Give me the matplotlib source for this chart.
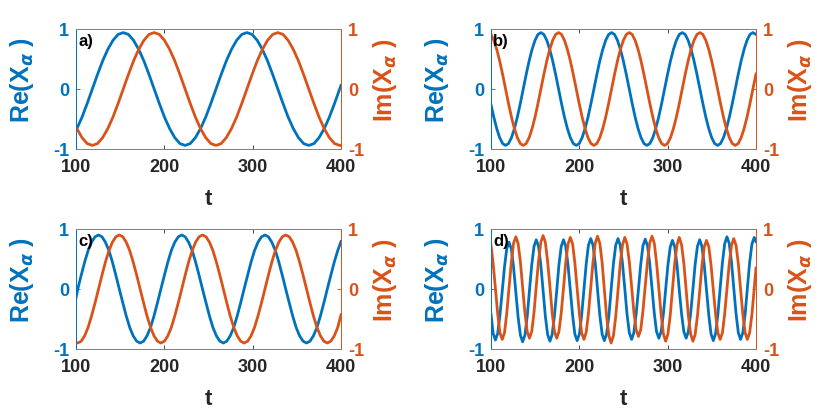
import matplotlib
matplotlib.use('Agg')
import matplotlib.pyplot as plt

plt.rcParams['font.family'] = ['Liberation Sans', 'DejaVu Sans']
plt.rcParams['font.weight'] = 'bold'
plt.rcParams['axes.unicode_minus'] = False
plt.rcParams['mathtext.fontset'] = 'dejavusans'

# ---------------- data ----------------
t_a = [100, 101.0, 106.8, 112.7, 118.5, 124.3, 130.2, 136.0, 141.8, 147.7, 153.5,
       159.3, 165.2, 171.0, 176.8, 182.7, 188.5, 194.3, 200.2, 206.0, 211.8, 217.7,
       223.5, 229.3, 235.2, 241.0, 246.8, 252.7, 258.5, 264.3, 270.2, 276.0, 281.8,
       287.7, 293.5, 299.3, 305.2, 311.0, 316.8, 322.7, 328.5, 334.3, 340.2, 346.0,
       351.8, 357.7, 363.5, 369.3, 375.2, 381.0, 386.8, 392.7, 398.5, 400]
re_a = [-0.68, -0.66, -0.47, -0.24, 0, 0.24, 0.47, 0.66, 0.81, 0.91, 0.94,
        0.91, 0.81, 0.66, 0.47, 0.24, 0, -0.24, -0.47, -0.66, -0.81, -0.91,
        -0.94, -0.91, -0.81, -0.66, -0.47, -0.24, 0, 0.24, 0.47, 0.66, 0.81,
        0.91, 0.94, 0.91, 0.81, 0.66, 0.47, 0.24, 0, -0.24, -0.47, -0.66,
        -0.81, -0.91, -0.94, -0.91, -0.81, -0.66, -0.47, -0.24, 0, 0.06]
im_a = [-0.64, -0.66, -0.81, -0.91, -0.94, -0.91, -0.81, -0.66, -0.47, -0.24, 0,
        0.24, 0.47, 0.66, 0.81, 0.91, 0.94, 0.91, 0.81, 0.66, 0.47, 0.24,
        0, -0.24, -0.47, -0.66, -0.81, -0.91, -0.94, -0.91, -0.81, -0.66, -0.47,
        -0.24, 0, 0.24, 0.47, 0.66, 0.81, 0.91, 0.94, 0.91, 0.81, 0.66,
        0.47, 0.24, 0, -0.24, -0.47, -0.66, -0.81, -0.91, -0.94, -0.94]

t_b = [100, 103.2, 106.5, 109.8, 113.2, 116.5, 119.8, 123.2, 126.5, 129.8, 133.2,
       136.5, 139.8, 143.2, 146.5, 149.8, 153.2, 156.5, 159.8, 163.2, 166.5, 169.8,
       173.2, 176.5, 179.8, 183.2, 186.5, 189.8, 193.2, 196.5, 199.8, 203.2, 206.5,
       209.8, 213.2, 216.5, 219.8, 223.2, 226.5, 229.8, 233.2, 236.5, 239.8, 243.2,
       246.5, 249.8, 253.2, 256.5, 259.8, 263.2, 266.5, 269.8, 273.2, 276.5, 279.8,
       283.2, 286.5, 289.8, 293.2, 296.5, 299.8, 303.2, 306.5, 309.8, 313.2, 316.5,
       319.8, 323.2, 326.5, 329.8, 333.2, 336.5, 339.8, 343.2, 346.5, 349.8, 353.2,
       356.5, 359.8, 363.2, 366.5, 369.8, 373.2, 376.5, 379.8, 383.2, 386.5, 389.8,
       393.2, 396.5, 400]
re_b = [-0.26,
        -0.47, -0.66, -0.81, -0.91, -0.94, -0.91, -0.81, -0.66, -0.47, -0.24, 0, 0.24,
        0.47, 0.66, 0.81, 0.91,
        0.94, 0.91, 0.81, 0.66, 0.47, 0.24, 0, -0.24, -0.47, -0.66, -0.81, -0.91,
        -0.94, -0.91, -0.81, -0.66, -0.47, -0.24, 0, 0.24, 0.47, 0.66, 0.81, 0.91,
        0.94, 0.91, 0.81, 0.66, 0.47, 0.24, 0, -0.24, -0.47, -0.66, -0.81, -0.91,
        -0.94, -0.91, -0.81, -0.66, -0.47, -0.24, 0, 0.24, 0.47, 0.66, 0.81, 0.91,
        0.94, 0.91, 0.81, 0.66, 0.47, 0.24, 0, -0.24, -0.47, -0.66, -0.81, -0.91,
        -0.94, -0.91, -0.81, -0.66, -0.47, -0.24, 0, 0.24, 0.47, 0.66, 0.81, 0.91,
        0.94, 0.91]
im_b = [0.91,
        0.81, 0.66, 0.47, 0.24, 0, -0.24, -0.47, -0.66, -0.81, -0.91, -0.94, -0.91,
        -0.81, -0.66, -0.47, -0.24, 0, 0.24, 0.47, 0.66, 0.81, 0.91,
        0.94, 0.91, 0.81, 0.66, 0.47, 0.24, 0, -0.24, -0.47, -0.66, -0.81, -0.91,
        -0.94, -0.91, -0.81, -0.66, -0.47, -0.24, 0, 0.24, 0.47, 0.66, 0.81, 0.91,
        0.94, 0.91, 0.81, 0.66, 0.47, 0.24, 0, -0.24, -0.47, -0.66, -0.81, -0.91,
        -0.94, -0.91, -0.81, -0.66, -0.47, -0.24, 0, 0.24, 0.47, 0.66, 0.81, 0.91,
        0.94, 0.91, 0.81, 0.66, 0.47, 0.24, 0, -0.24, -0.47, -0.66, -0.81, -0.91,
        -0.94, -0.91, -0.81, -0.66, -0.47, -0.24, 0,
        0.25]

t_c = [100, 102.0, 105.9, 109.8, 113.7, 117.6, 121.6, 125.5, 129.4, 133.3, 137.3,
       141.2, 145.1, 149.0, 153.0, 156.9, 160.8, 164.7, 168.7, 172.6, 176.5, 180.4,
       184.4, 188.3, 192.2, 196.1, 200.1, 204.0, 207.9, 211.8, 215.8, 219.7, 223.6,
       227.5, 231.5, 235.4, 239.3, 243.2, 247.2, 251.1, 255.0, 258.9, 262.9, 266.8,
       270.7, 274.6, 278.6, 282.5, 286.4, 290.3, 294.3, 298.2, 302.1, 306.0, 310.0,
       313.9, 317.8, 321.7, 325.7, 329.6, 333.5, 337.4, 341.4, 345.3, 349.2, 353.1,
       357.1, 361.0, 364.9, 368.8, 372.8, 376.7, 380.6, 384.5, 388.5, 392.4, 396.3,
       400]
re_c = [-0.15,
        0, 0.23, 0.45, 0.64, 0.78, 0.87,
        0.9, 0.87, 0.78, 0.64, 0.45, 0.23, 0, -0.23, -0.45, -0.64, -0.78, -0.87,
        -0.9, -0.87, -0.78, -0.64, -0.45, -0.23, 0, 0.23, 0.45, 0.64, 0.78, 0.87,
        0.9, 0.87, 0.78, 0.64, 0.45, 0.23, 0, -0.23, -0.45, -0.64, -0.78, -0.87,
        -0.9, -0.87, -0.78, -0.64, -0.45, -0.23, 0, 0.23, 0.45, 0.64, 0.78, 0.87,
        0.9, 0.87, 0.78, 0.64, 0.45, 0.23, 0, -0.23, -0.45, -0.64, -0.78, -0.87,
        -0.9, -0.87, -0.78, -0.64, -0.45, -0.23, 0, 0.23, 0.45, 0.64,
        0.79]
im_c = [-0.89,
        -0.9, -0.87, -0.78, -0.64, -0.45, -0.23, 0, 0.23, 0.45, 0.64, 0.78, 0.87,
        0.9, 0.87, 0.78, 0.64, 0.45, 0.23, 0, -0.23, -0.45, -0.64, -0.78, -0.87,
        -0.9, -0.87, -0.78, -0.64, -0.45, -0.23, 0, 0.23, 0.45, 0.64, 0.78, 0.87,
        0.9, 0.87, 0.78, 0.64, 0.45, 0.23, 0, -0.23, -0.45, -0.64, -0.78, -0.87,
        -0.9, -0.87, -0.78, -0.64, -0.45, -0.23, 0, 0.23, 0.45, 0.64, 0.78, 0.87,
        0.9, 0.87, 0.78, 0.64, 0.45, 0.23, 0, -0.23, -0.45, -0.64, -0.78, -0.87,
        -0.9, -0.87, -0.78, -0.64,
        -0.43]

t_d = [100, 102.4, 105.0, 107.6, 110.1, 112.7, 115.3, 117.8, 120.4, 123.0, 125.5,
       128.1, 130.7, 133.3, 135.8, 138.4, 141.0, 143.5, 146.1, 148.7, 151.2, 153.8,
       156.4, 159.0, 161.5, 164.1, 166.7, 169.2, 171.8, 174.4, 176.9, 179.5, 182.1,
       184.6, 187.2, 189.8, 192.4, 194.9, 197.5, 200.1, 202.6, 205.2, 207.8, 210.3,
       212.9, 215.5, 218.1, 220.6, 223.2, 225.8, 228.3, 230.9, 233.5, 236.0, 238.6,
       241.2, 243.8, 246.3, 248.9, 251.5, 254.0, 256.6, 259.2, 261.7, 264.3, 266.9,
       269.5, 272.0, 274.6, 277.2, 279.7, 282.3, 284.9, 287.4, 290.0, 292.6, 295.2,
       297.7, 300.3, 302.9, 305.4, 308.0, 310.6, 313.1, 315.7, 318.3, 320.9, 323.4,
       326.0, 328.6, 331.1, 333.7, 336.3, 338.8, 341.4, 344.0, 346.6, 349.1, 351.7,
       354.3, 356.8, 359.4, 362.0, 364.5, 367.1, 369.7, 372.3, 374.8, 377.4, 380.0,
       382.5, 385.1, 387.7, 390.2, 392.8, 395.4, 398.0, 400]
re_d = [-0.42, -0.74, -0.85, -0.74, -0.44, -0.04, 0.37, 0.67, 0.78, 0.67, 0.37,
        -0.05, -0.47, -0.77, -0.88, -0.77, -0.46, -0.03, 0.40, 0.71, 0.82, 0.71,
        0.40, -0.03, -0.45, -0.76, -0.87, -0.76, -0.45, -0.03, 0.40, 0.71, 0.82,
        0.71, 0.40, -0.02, -0.44, -0.75, -0.86, -0.75, -0.44, -0.01, 0.42, 0.73,
        0.84, 0.73, 0.42, -0.01, -0.44, -0.75, -0.86, -0.75, -0.44, -0.01, 0.42,
        0.73, 0.84, 0.73, 0.42, 0.00, -0.42, -0.73, -0.84, -0.73, -0.42, -0.01,
        0.41, 0.72, 0.83, 0.72, 0.42, 0.01, -0.41, -0.71, -0.82, -0.71, -0.41,
        -0.01, 0.40, 0.70, 0.81, 0.70, 0.40, -0.01, -0.41, -0.71, -0.82, -0.71,
        -0.41, 0.00, 0.41, 0.71, 0.82, 0.71, 0.40, -0.02, -0.44, -0.75, -0.86,
        -0.74, -0.43, 0.01, 0.44, 0.75, 0.87, 0.76, 0.44, 0.02, -0.41, -0.73,
        -0.84, -0.73, -0.42, 0.01, 0.44, 0.75, 0.86, 0.79]
im_d = [0.73, 0.43, 0.01, -0.42, -0.73, -0.84, -0.73, -0.41, 0.02, 0.44, 0.76,
        0.87, 0.76, 0.45, 0.03, -0.40, -0.71, -0.82, -0.71, -0.39, 0.04, 0.46,
        0.78, 0.89, 0.78, 0.46, 0.04, -0.39, -0.71, -0.82, -0.71, -0.40, 0.02,
        0.44, 0.75, 0.86, 0.75, 0.44, 0.01, -0.42, -0.73, -0.84, -0.72, -0.41,
        0.02, 0.45, 0.77, 0.88, 0.76, 0.44, -0.01, -0.46, -0.78, -0.90, -0.78,
        -0.46, -0.02, 0.42, 0.74, 0.86, 0.75, 0.45, 0.04, -0.38, -0.68, -0.79,
        -0.68, -0.37, 0.05, 0.46, 0.77, 0.88, 0.76, 0.44, 0.01, -0.43, -0.75,
        -0.87, -0.75, -0.44, -0.01, 0.43, 0.74, 0.86, 0.74, 0.43, -0.01, -0.44,
        -0.75, -0.87, -0.76, -0.45, -0.03, 0.39, 0.70, 0.81, 0.70, 0.40, -0.02,
        -0.43, -0.73, -0.84, -0.73, -0.42, 0.00, 0.42, 0.73, 0.84, 0.73, 0.42,
        0.00, -0.42, -0.73, -0.84, -0.73, -0.42, 0.01, 0.35]

panel_labels = ['a)', 'b)', 'c)', 'd)']
x_ticks = [100, 200, 300, 400]
y_ticks = [-1, 0, 1]
re_label = r'Re(X$_{\alpha}$ )'
im_label = r'Im(X$_{\alpha}$ )'
x_label = 't'

# ---------------- style ----------------
BLUE = '#0072BD'
ORANGE = '#D95319'
DARK = '#262626'
FW, FH = 830, 411
W, H = 265, 120
origins = [(76, 29), (491, 29), (76, 229), (491, 229)]

fig = plt.figure(figsize=(FW / 100, FH / 100), dpi=100)
fig.patch.set_facecolor('white')

series = [(t_a, re_a, im_a), (t_b, re_b, im_b), (t_c, re_c, im_c), (t_d, re_d, im_d)]

for (x0, y0), (t, re, im), lab in zip(origins, series, panel_labels):
    ax = fig.add_axes([x0 / FW, 1 - (y0 + H) / FH, W / FW, H / FH])
    ax.plot(t, re, color=BLUE, lw=2.0, solid_joinstyle='round')
    ax2 = ax.twinx()
    ax2.plot(t, im, color=ORANGE, lw=2.0, solid_joinstyle='round')

    ax.set_xlim(100, 400)
    ax.set_ylim(-1, 1)
    ax2.set_ylim(-1, 1)
    ax.set_xticks(x_ticks)
    ax.set_yticks(y_ticks)
    ax2.set_yticks(y_ticks)

    ax.tick_params(axis='x', direction='in', length=3, width=0.6, top=True,
                   colors=DARK, labelsize=13, pad=7.5)
    ax.tick_params(axis='y', direction='in', length=3, width=0.6,
                   colors=BLUE, labelsize=13, pad=5)
    ax2.tick_params(axis='y', direction='in', length=3, width=0.6,
                    colors=ORANGE, labelsize=13, pad=5)
    for a in (ax, ax2):
        for s in a.spines.values():
            s.set_linewidth(0.6)
        a.spines['top'].set_color('#7f7f7f')
        a.spines['bottom'].set_color('#7f7f7f')
        a.spines['left'].set_color(BLUE)
        a.spines['right'].set_color(ORANGE)

    ax.set_ylabel(re_label, color=BLUE, fontsize=18, fontweight='bold',
                  va='center', ha='center')
    ax.yaxis.set_label_coords(-0.204, 0.575)
    ax2.set_ylabel(im_label, color=ORANGE, fontsize=18, fontweight='bold',
                   va='center', ha='center')
    ax2.yaxis.set_label_coords(1.166, 0.575)
    ax.set_xlabel(x_label, color=DARK, fontsize=16, fontweight='bold', labelpad=9)

    ax2.text(0.008, 0.96, lab, transform=ax2.transAxes, ha='left', va='top',
             fontsize=12, fontweight='bold', color='black', zorder=10)

fig.savefig('out.png', dpi=100, facecolor='white')
